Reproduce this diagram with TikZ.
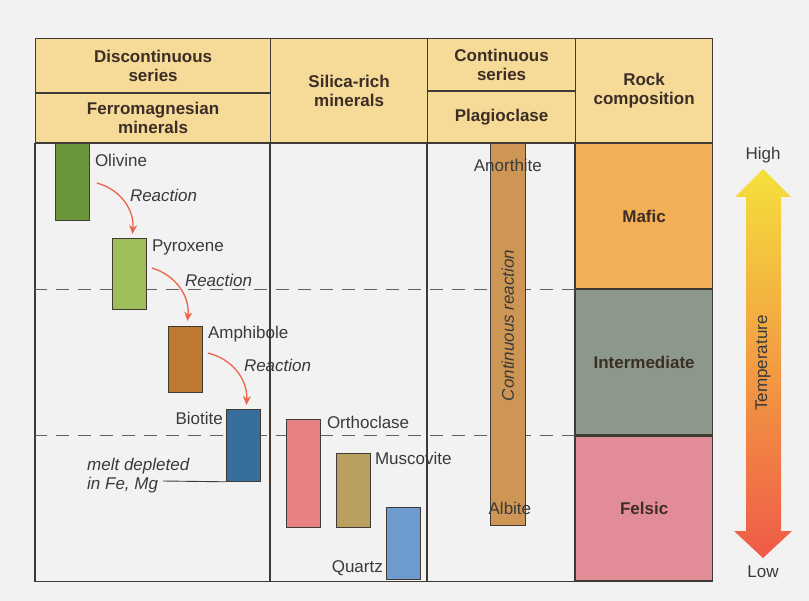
\documentclass[tikz,border=0pt]{standalone}
\usepackage{fontspec}
\setmainfont{Liberation Sans}
\usetikzlibrary{positioning,calc,arrows.meta}
\definecolor{paper}{HTML}{F2F2F2}
\definecolor{rule}{HTML}{403A35}
\definecolor{ink}{HTML}{3A3A3A}
\definecolor{headink}{HTML}{3C2E26}
\definecolor{headtan}{HTML}{F5DA98}
\definecolor{olivinecol}{HTML}{6C963C}
\definecolor{pyroxenecol}{HTML}{9EBE5A}
\definecolor{amphibolecol}{HTML}{BE7832}
\definecolor{biotitecol}{HTML}{376E9B}
\definecolor{orthoclasecol}{HTML}{E68282}
\definecolor{muscovitecol}{HTML}{B9A05F}
\definecolor{quartzcol}{HTML}{6E9BCD}
\definecolor{plagcol}{HTML}{CD9655}
\definecolor{maficcol}{HTML}{F2AF55}
\definecolor{intercol}{HTML}{8C988A}
\definecolor{felsiccol}{HTML}{E18C96}
\definecolor{reactred}{HTML}{EB644B}
\definecolor{hotcol}{HTML}{F5E03C}
\definecolor{warmcol}{HTML}{F5A845}
\definecolor{coolcol}{HTML}{EF5A48}
\tikzset{
    > = {Stealth[length=9pt, width=8pt]},
    every node/.style = {font=\fontsize{17}{19}\selectfont, text=ink},
    head/.style = {draw=rule, line width=1.2pt, fill=headtan, align=center, text=headink,
        font=\fontsize{17}{19}\selectfont\bfseries, anchor=north west},
    rock/.style = {draw=rule, line width=1.2pt, minimum width=137, minimum height=145,
        text=headink, font=\fontsize{17}{19}\selectfont\bfseries},
    bar/.style = {draw=rule, line width=0.8pt, anchor=north west, minimum width=34},
    lbl/.style = {anchor=base west, inner sep=0pt},
    rlbl/.style = {lbl, font=\fontsize{17}{19}\selectfont\itshape},
    frame/.style = {draw=rule, line width=1.2pt},
    divide/.style = {draw=gray!75!black, dash pattern=on 13pt off 9pt, line width=0.9pt},
    react/.style = {->, draw=reactred, line width=1.3pt}
}
\begin{document}
\begin{tikzpicture}[x=1pt, y=-1pt]
    \fill[paper] (0,0) rectangle (809,601);

    \node[head, minimum width=235, minimum height=54] (discont) at (35,38) {Discontinuous\\series};
    \node[head, minimum width=235, minimum height=49, below=0pt of discont] (ferro) {Ferromagnesian\\minerals};
    \node[head, minimum width=157, minimum height=104] (silica) at (270,38) {Silica-rich\\minerals};
    \node[head, minimum width=148, minimum height=52] (contin) at (427,38) {Continuous\\series};
    \node[head, minimum width=148, minimum height=51, below=0pt of contin] (plagio) {Plagioclase};
    \node[head, minimum width=137, minimum height=104] (rockcomp) at (575,38) {Rock\\composition};

    \node[rock, fill=maficcol, anchor=north west] (mafic) at (575,143) {Mafic};
    \node[rock, fill=intercol, below=0pt of mafic] (inter) {Intermediate};
    \node[rock, fill=felsiccol, below=0pt of inter] (felsic) {Felsic};

    \draw[frame] (ferro.south west) rectangle (felsic.south west);
    \draw[frame] (silica.south west) -- (silica.south west |- felsic.south);
    \draw[frame] (plagio.south west) -- (plagio.south west |- felsic.south);

    \draw[divide] (mafic.south west) -- ++(-540,0);
    \draw[divide] (inter.south west) -- ++(-540,0);

    \node[bar, fill=olivinecol, minimum height=77] (olivine) at (55,143) {};
    \node[bar, fill=pyroxenecol, minimum height=71] (pyroxene) at (112,238) {};
    \node[bar, fill=amphibolecol, minimum height=66] (amphibole) at (168,326) {};
    \node[bar, fill=biotitecol, minimum height=72] (biotite) at (226,409) {};
    \node[bar, fill=orthoclasecol, minimum height=108] (orthoclase) at (286,419) {};
    \node[bar, fill=muscovitecol, minimum height=74] (muscovite) at (336,453) {};
    \node[bar, fill=quartzcol, minimum height=72] (quartz) at (386,507) {};
    \node[bar, fill=plagcol, minimum width=35, minimum height=382] (plagbar) at (490,143) {};

    \node[lbl] (olivinetxt) at ($(olivine.north east)+(5,24)$) {Olivine};
    \node[lbl] (pyroxenetxt) at ($(pyroxene.north east)+(5,14)$) {Pyroxene};
    \node[lbl] (amphiboletxt) at ($(amphibole.north east)+(5,13)$) {Amphibole};
    \node[lbl, anchor=base east] (biotitetxt) at ($(biotite.north west)+(-3,16)$) {Biotite};
    \node[lbl] (orthoclasetxt) at ($(orthoclase.north east)+(6,10)$) {Orthoclase};
    \node[lbl] (muscovitetxt) at ($(muscovite.north east)+(4,12)$) {Muscovite};
    \node[lbl, anchor=base east] (quartztxt) at ($(quartz.south west)+(-3,-7)$) {Quartz};

    \node[lbl, anchor=base] (anorthite) at ($(plagbar.north)+(0,29)$) {Anorthite};
    \node[lbl, anchor=base] (albite) at ($(plagbar.south)+(2,-11)$) {Albite};
    \node[rlbl, anchor=center, rotate=90] (contreact) at ($(plagbar.center)+(0,-9)$) {Continuous reaction};

    \draw[react] ($(olivine.north east)+(7,40)$) to[bend left=40] ($(pyroxene.north)+(3,-4)$);
    \draw[react] ($(pyroxene.north east)+(5,30)$) to[bend left=40] ($(amphibole.north)+(2,-5)$);
    \draw[react] ($(amphibole.north east)+(5,27)$) to[bend left=40] ($(biotite.north)+(3,-4)$);
    \node[rlbl] (reacta) at ($(pyroxene.north east)+(-17,-36)$) {Reaction};
    \node[rlbl] (reactb) at ($(amphibole.north east)+(-18,-39)$) {Reaction};
    \node[rlbl] (reactc) at ($(biotite.north east)+(-17,-37)$) {Reaction};

    \node[rlbl, align=left, anchor=north west] (melt) at (87,458) {melt depleted\\in Fe, Mg};
    \coordinate (meltend) at (163,481);
    \draw[rule, line width=0.9pt] (meltend) -- (biotite.south west);

    \coordinate (hot) at (763,169);
    \coordinate (cold) at (763,558);
    \shade[top color=hotcol, middle color=warmcol, bottom color=coolcol]
        (hot) -- (791,197) -- (781,197) -- (781,531) -- (792,531) -- (cold)
        -- (734,531) -- (746,531) -- (746,197) -- (735,197) -- cycle;
    \node[lbl, anchor=base] (high) at ($(hot)+(0,-9)$) {High};
    \node[lbl, anchor=base] (low) at ($(cold)+(0,19)$) {Low};
    \node[lbl, anchor=center, rotate=90] (temp) at (763,363) {Temperature};
\end{tikzpicture}
\end{document}
